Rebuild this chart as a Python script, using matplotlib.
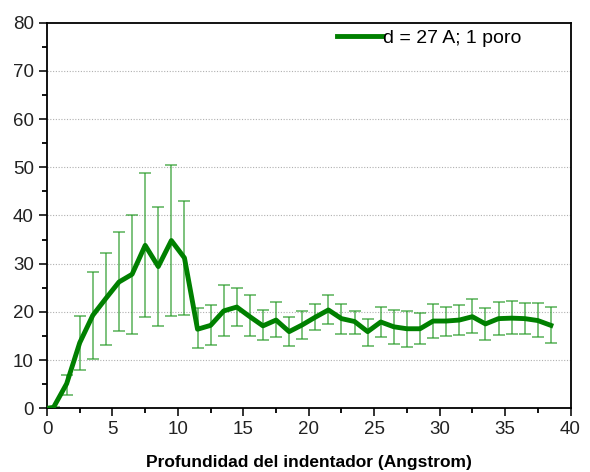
import matplotlib.pyplot as plt
import numpy as np
from matplotlib.ticker import MultipleLocator

plt.rcParams['font.family'] = ['Liberation Sans', 'DejaVu Sans']

# profundidad (Angstrom) y valores medios con barras de error
depth = [0, 0.5, 1.5, 2.5, 3.5, 4.5, 5.5, 6.5, 7.5, 8.5, 9.5, 10.5,
         11.5, 12.5, 13.5, 14.5, 15.5, 16.5, 17.5, 18.5, 19.5, 20.5,
         21.5, 22.5, 23.5, 24.5, 25.5, 26.5, 27.5, 28.5, 29.5, 30.5,
         31.5, 32.5, 33.5, 34.5, 35.5, 36.5, 37.5, 38.5]
mean = [0, 0.2, 5.1, 13.6, 19.3, 22.8, 26.2, 27.8, 33.8, 29.4, 34.8, 31.2,
        16.4, 17.2, 20.2, 21.0, 19.0, 17.1, 18.3, 15.9, 17.3, 18.9,
        20.4, 18.6, 18.0, 15.9, 17.9, 16.9, 16.5, 16.5, 18.1, 18.1,
        18.3, 19.0, 17.5, 18.6, 18.7, 18.6, 18.2, 17.2]
err_top = [0, 0.3, 7.0, 19.1, 28.2, 32.3, 36.5, 40.0, 48.8, 41.7, 50.5, 43.1,
           20.8, 21.4, 25.6, 25.0, 23.4, 20.4, 22.0, 18.9, 20.2, 21.7,
           23.5, 21.6, 20.2, 18.6, 21.1, 20.3, 20.2, 19.7, 21.6, 21.0,
           21.4, 22.6, 20.9, 22.1, 22.3, 21.9, 21.9, 21.0]
err_bot = [0, 0.1, 2.7, 7.9, 10.3, 13.1, 16.1, 15.5, 19.0, 17.1, 19.1, 19.3,
           12.5, 13.1, 15.0, 17.0, 15.0, 14.1, 14.7, 12.9, 14.3, 16.2,
           17.5, 15.5, 15.5, 12.9, 14.7, 13.3, 12.8, 13.3, 14.5, 15.0,
           15.1, 15.6, 14.2, 15.1, 15.4, 15.4, 14.7, 13.6]

mean = np.array(mean)
yerr = [mean - np.array(err_bot), np.array(err_top) - mean]

fig = plt.figure(figsize=(5.9, 4.72), dpi=100)
ax = fig.add_axes([0.0797, 0.135, 0.8873, 0.817])

ax.errorbar(depth, mean, yerr=yerr, fmt='none', ecolor='#259a25', alpha=0.7,
            elinewidth=1.2, capsize=4, capthick=1.2, zorder=2)
ax.plot(depth, mean, color='#008000', lw=3.5, label='d = 27 A; 1 poro', zorder=3)

ax.set_xlim(0, 40)
ax.set_ylim(0, 80)
ax.xaxis.set_major_locator(MultipleLocator(5))
ax.xaxis.set_minor_locator(MultipleLocator(2.5))
ax.yaxis.set_major_locator(MultipleLocator(10))
ax.yaxis.set_minor_locator(MultipleLocator(5))
ax.tick_params(which='major', direction='out', length=6, width=1.3,
               labelsize=13.5, colors='#222222')
ax.tick_params(which='minor', direction='out', length=3.5, width=1.3)
for s in ax.spines.values():
    s.set_linewidth(1.3)

for yv in range(10, 80, 10):
    ax.axhline(yv, color='#b0b0b0', lw=0.8, ls=(0, (1, 1.5)), zorder=1)

ax.set_xlabel('Profundidad del indentador (Angstrom)', fontsize=12.5,
              fontweight='bold', labelpad=12)

ax.legend(loc='upper right', frameon=False, fontsize=14, handlelength=2.3,
          handletextpad=0.1, borderaxespad=0.3, bbox_to_anchor=(0.933, 1.018))

fig.savefig('out.png', dpi=100)
